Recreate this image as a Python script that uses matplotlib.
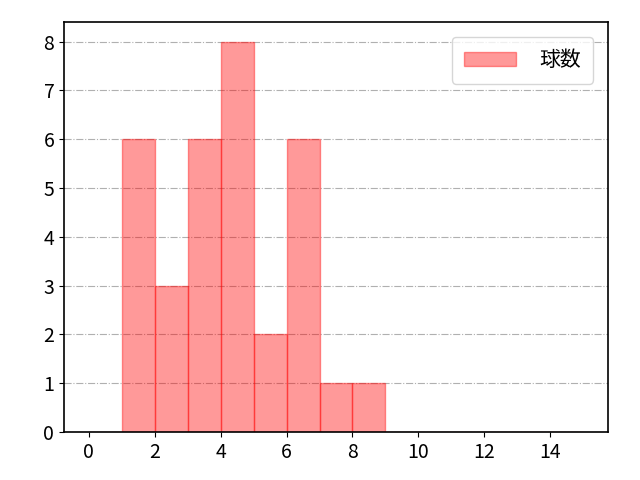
import numpy as np
import matplotlib
matplotlib.use('Agg')
import matplotlib.pyplot as plt

plt.rcParams['font.family'] = ['Noto Sans CJK JP', 'DejaVu Sans']

# 球数ごとの件数
pitch_counts = [0, 1, 2, 3, 4, 5, 6, 7, 8, 9, 10, 11, 12, 13, 14]
frequency = [0, 6, 3, 6, 8, 2, 6, 1, 1, 0, 0, 0, 0, 0, 0]
bin_edges = np.arange(0, 16)

fig, ax = plt.subplots(figsize=(6.4, 4.8), dpi=100)
ax.hist(pitch_counts, bins=bin_edges, weights=frequency,
        color='red', alpha=0.4, edgecolor='red', label='球数')
ax.grid(axis='y', linestyle='-.', color='#b0b0b0')
ax.set_axisbelow(True)
ax.set_xticks(np.arange(0, 16, 2))
ax.tick_params(labelsize=14)
for spine in ax.spines.values():
    spine.set_linewidth(1.2)
ax.legend(fontsize=15, loc='upper right', handlelength=2.5,
          handletextpad=1.1, borderpad=0.6, borderaxespad=0.7)
fig.subplots_adjust(left=0.1, right=0.95, bottom=0.1, top=0.954)
plt.savefig('out.png')
